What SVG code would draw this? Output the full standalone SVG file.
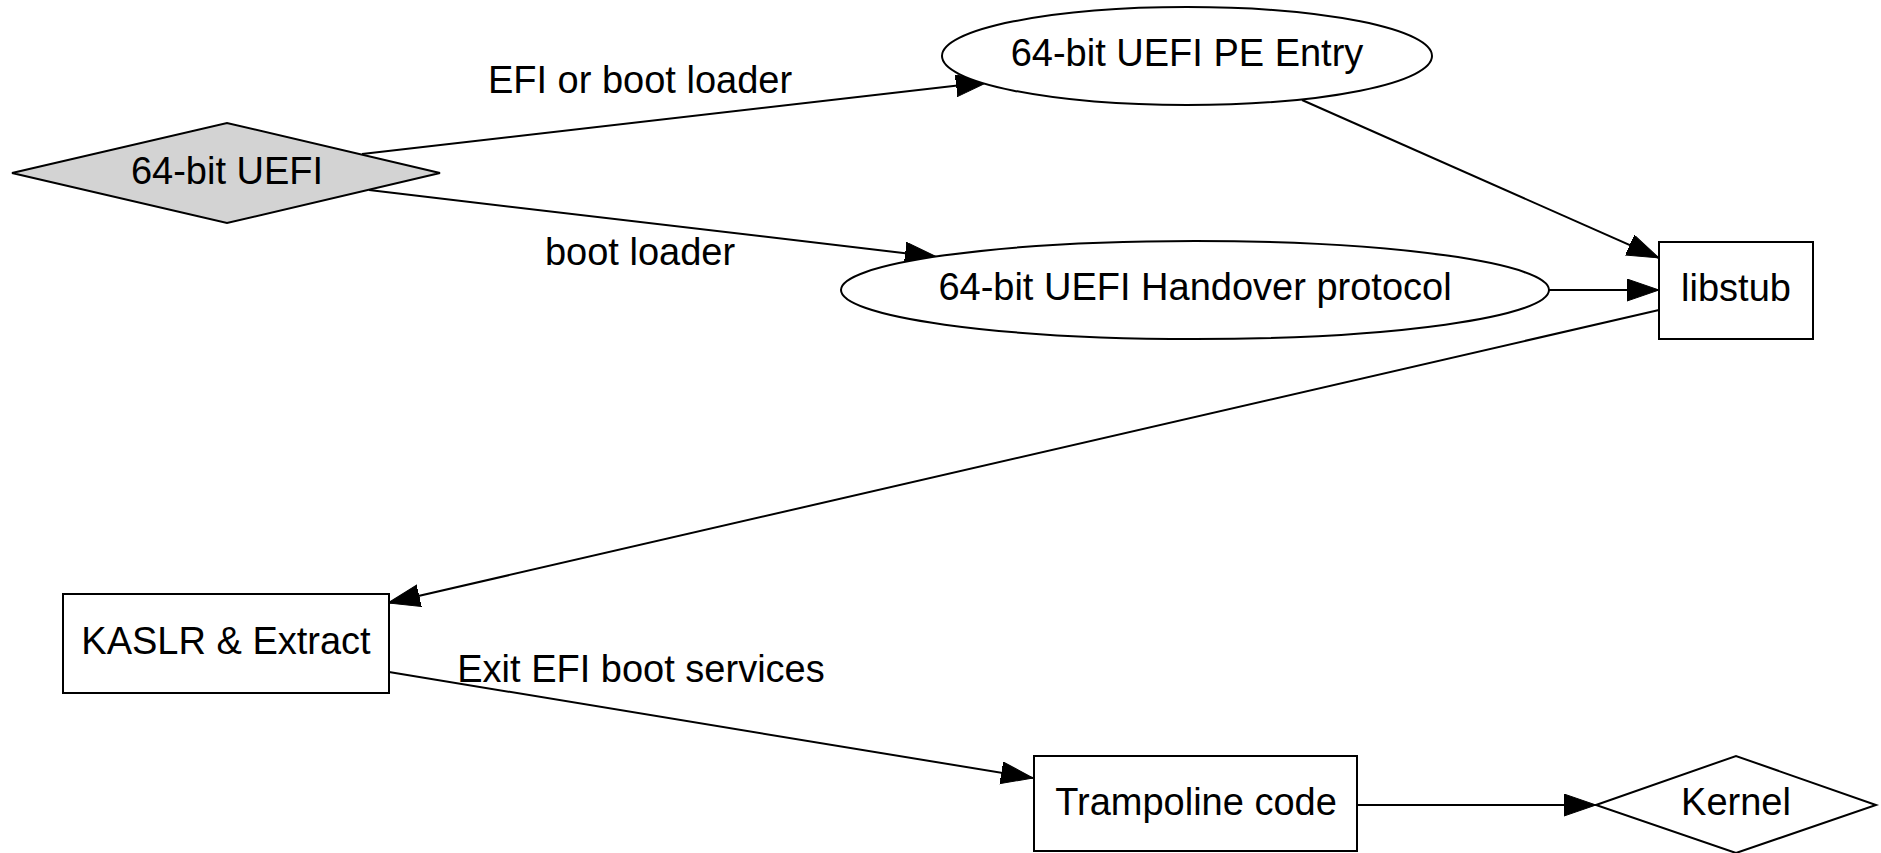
<svg xmlns="http://www.w3.org/2000/svg" width="1881" height="853" viewBox="0 0 1881 853">
<style>
  .shape { fill: #ffffff; stroke: #000000; stroke-width: 2; }
  .gray { fill: #d3d3d3; }
  .edge { fill: none; stroke: #000000; stroke-width: 2; }
  text { font-family: "Liberation Sans", Arial, sans-serif; font-size: 38px; fill: #000000; text-anchor: middle; }
</style>
<defs>
  <marker id="arrow" markerUnits="userSpaceOnUse" markerWidth="34" markerHeight="24" refX="32" refY="11" orient="auto">
    <path d="M0,0 L32,11 L0,22 Z" fill="#000000" stroke="#000000" stroke-width="1"/>
  </marker>
</defs>
<rect x="0" y="0" width="1881" height="853" fill="#ffffff"/>

<g id="connectors">
  <g id="e_uefi_pe">
    <line class="edge" x1="362" y1="154" x2="988" y2="82" marker-end="url(#arrow)"/>
    <text x="640" y="93">EFI or boot loader</text>
  </g>
  <g id="e_uefi_handover">
    <line class="edge" x1="369" y1="190" x2="937" y2="257" marker-end="url(#arrow)"/>
    <text x="640" y="265">boot loader</text>
  </g>
  <g id="e_pe_libstub">
    <line class="edge" x1="1302" y1="100" x2="1659" y2="258" marker-end="url(#arrow)"/>
  </g>
  <g id="e_handover_libstub">
    <line class="edge" x1="1549" y1="290" x2="1659" y2="290" marker-end="url(#arrow)"/>
  </g>
  <g id="e_libstub_kaslr">
    <line class="edge" x1="1659" y1="310" x2="388" y2="603" marker-end="url(#arrow)"/>
  </g>
  <g id="e_kaslr_trampoline">
    <line class="edge" x1="389" y1="672" x2="1033" y2="778" marker-end="url(#arrow)"/>
    <text x="641" y="682">Exit EFI boot services</text>
  </g>
  <g id="e_trampoline_kernel">
    <line class="edge" x1="1357" y1="805" x2="1596" y2="805" marker-end="url(#arrow)"/>
  </g>
</g>

<g id="node_uefi">
  <polygon class="shape gray" points="12,173 227,123 440,173 227,223"/>
  <text x="227" y="184">64-bit UEFI</text>
</g>
<g id="node_pe_entry">
  <ellipse class="shape" cx="1187" cy="56" rx="245" ry="49"/>
  <text x="1187" y="66">64-bit UEFI PE Entry</text>
</g>
<g id="node_handover">
  <ellipse class="shape" cx="1195" cy="290" rx="354" ry="49"/>
  <text x="1195" y="300">64-bit UEFI Handover protocol</text>
</g>
<g id="node_libstub">
  <rect class="shape" x="1659" y="242" width="154" height="97"/>
  <text x="1736" y="301">libstub</text>
</g>
<g id="node_kaslr">
  <rect class="shape" x="63" y="594" width="326" height="99"/>
  <text x="226" y="654">KASLR &amp; Extract</text>
</g>
<g id="node_trampoline">
  <rect class="shape" x="1034" y="756" width="323" height="95"/>
  <text x="1196" y="815">Trampoline code</text>
</g>
<g id="node_kernel">
  <polygon class="shape" points="1596,805 1736,756 1876,805 1736,853"/>
  <text x="1736" y="815">Kernel</text>
</g>
</svg>
